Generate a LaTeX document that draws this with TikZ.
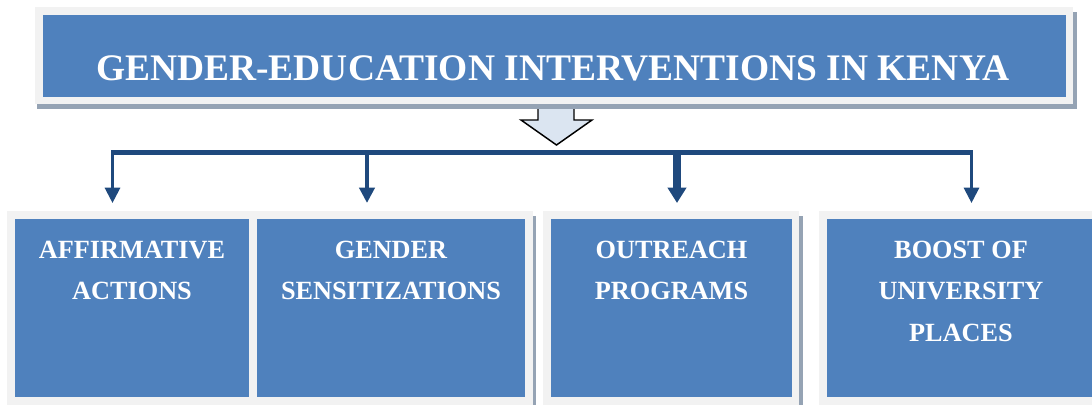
\documentclass[tikz,border=0pt]{standalone}
\usepackage{fontspec}
\setmainfont{Liberation Serif}
\usetikzlibrary{arrows.meta}
\definecolor{boxblue}{HTML}{4F81BD}
\definecolor{framegray}{HTML}{F2F2F2}
\definecolor{shadowgray}{HTML}{95A3B4}
\definecolor{linkblue}{HTML}{1F497D}
\definecolor{arrowfill}{HTML}{DBE5F1}
\tikzset{
  bluebox/.style={fill=boxblue, draw=none, inner sep=0pt},
  titletext/.style={text=white, font=\bfseries\fontsize{28.1pt}{33pt}\selectfont, inner sep=0pt},
  boxtext/.style={text=white, font=\bfseries\fontsize{19.7pt}{30.9pt}\selectfont, align=center, inner sep=0pt},
  link/.style={draw=linkblue, line width=2.25pt, -{Triangle[width=11.25pt,length=11.5pt]}},
  bar/.style={draw=linkblue, line width=3.75pt},
  blockarrow/.style={fill=arrowfill, draw=black, line width=1.1pt, line join=miter}
}
\begin{document}
\begin{tikzpicture}[x=0.75pt,y=-0.75pt]
\useasboundingbox (0,0) rectangle (1092,404);
\clip (0,0) rectangle (1092,404);
% block arrow under the title
\draw[blockarrow] (538,100) -- (538,120) -- (521,120) -- (556.5,145) -- (592,120) -- (574,120) -- (574,100);
% title frame
\fill[shadowgray] (37,12) rectangle (1077,109);
\fill[framegray] (35,7) rectangle (1073,104);
\node[bluebox, minimum width=767.25pt, minimum height=61.5pt] (title) at (554.5,56) {};
\node[titletext, anchor=base] (titlelabel) at (553,80) {GENDER-EDUCATION INTERVENTIONS IN KENYA};
% bottom frames
\fill[shadowgray] (12,216) rectangle (536,410);
\fill[framegray] (7,211) rectangle (533,410);
\fill[shadowgray] (548,216) rectangle (803,410);
\fill[framegray] (543,211) rectangle (799,410);
\fill[shadowgray] (824,216) rectangle (1100,410);
\fill[framegray] (819,211) rectangle (1100,410);
% boxes
\node[bluebox, minimum width=175.5pt, minimum height=133.5pt] (aff) at (132,308) {};
\node[bluebox, minimum width=201pt, minimum height=133.5pt] (gen) at (391,308) {};
\node[bluebox, minimum width=180.75pt, minimum height=133.5pt] (out) at (671.5,308) {};
\node[bluebox, minimum width=201pt, minimum height=133.5pt] (boost) at (961,308) {};
\node[boxtext, anchor=north] (afftext) at (132,241) {AFFIRMATIVE\\ACTIONS};
\node[boxtext, anchor=north] (gentext) at (391,241) {GENDER\\SENSITIZATIONS};
\node[boxtext, anchor=north] (outtext) at (671.5,241) {OUTREACH\\PROGRAMS};
\node[boxtext, anchor=north] (boosttext) at (961,241) {BOOST OF\\UNIVERSITY\\PLACES};
% connectors
\coordinate (barL) at (112.5,152.5);
\coordinate (barR) at (971.5,152.5);
\draw[bar] ([xshift=-1.1pt]barL) -- ([xshift=1.1pt]barR);
\coordinate (bA) at (112.5,152.5);
\coordinate (bG) at (367,152.5);
\coordinate (bO) at (677,152.5);
\coordinate (bB) at (971.5,152.5);
\draw[link] (bA) -- (bA |- 0,203) coordinate (tA);
\draw[link, line width=3.4pt] (bG) -- (bG |- 0,203) coordinate (tG);
\draw[link, line width=5.5pt, -{Triangle[width=13.5pt,length=11.5pt]}] (bO) -- (bO |- 0,203) coordinate (tO);
\draw[link] (bB) -- (bB |- 0,203) coordinate (tB);
\end{tikzpicture}
\end{document}
